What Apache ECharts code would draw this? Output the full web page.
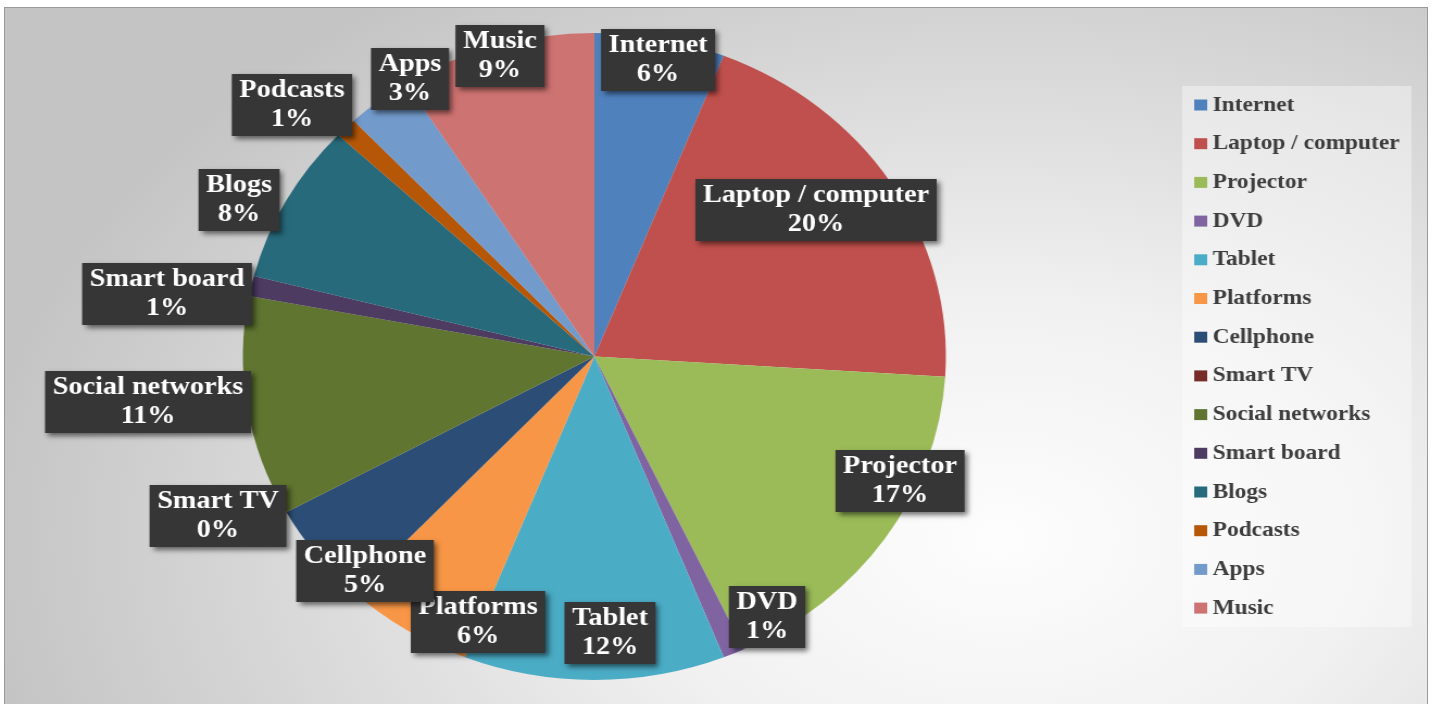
<!DOCTYPE html>
<html>
<head>
<meta charset="utf-8">
<script src="https://cdn.jsdelivr.net/npm/echarts@6/dist/echarts.min.js"></script>
<style>
  html, body { margin: 0; padding: 0; width: 1435px; height: 704px; overflow: hidden; background: #ffffff; }
  #frame {
    position: absolute; left: 4px; top: 7px; width: 1424px; height: 710px;
    border: 1px solid #9a9a9a; box-sizing: border-box;
    background: radial-gradient(ellipse 72% 95% at 70% 75%, #fdfdfd 0%, #f1f1f1 35%, #c4c4c4 100%);
  }
  /* the drawing is widened horizontally, so the pie reads as a slight ellipse */
  #chart {
    position: absolute; left: 0; top: 0; width: 1320.6px; height: 704px;
    transform: scaleX(1.0866); transform-origin: 0 0;
  }
</style>
</head>
<body>
<div id="frame"></div>
<div id="chart"></div>
<script>
// Share of use per resource (%)
const categories = [
  'Internet', 'Laptop / computer', 'Projector', 'DVD', 'Tablet', 'Platforms', 'Cellphone',
  'Smart TV', 'Social networks', 'Smart board', 'Blogs', 'Podcasts', 'Apps', 'Music'
];
const shares = [6, 20, 17, 1, 12, 6, 5, 0, 11, 1, 8, 1, 3, 9];

const colors = [
  '#4F81BD', '#C0504D', '#9BBB59', '#8064A2', '#4BACC6', '#F79646', '#2C4D75',
  '#772C2A', '#5F7530', '#4D3B62', '#276A7C', '#B65708', '#729ACA', '#CD7371'
];

// pie geometry (chart pixels)
const CX = 547, CY = 356.5, R = 323.5;

// label box centres, as offsets from the pie centre
const labelOffsets = [
  [58.6, -296.5], [204.0, -146.5], [281.3, 124.5], [158.9, 260.5], [14.4, 276.5],
  [-107.1, 265.5], [-211.1, 214.5], [-346.4, 159.5], [-410.8, 45.5], [-393.3, -62.5],
  [-327.0, -156.5], [-278.3, -251.5], [-169.7, -277.5], [-86.9, -300.5]
];

const chart = echarts.init(document.getElementById('chart'), null, { renderer: 'canvas' });

chart.setOption({
  animation: false,
  backgroundColor: 'transparent',
  color: colors,
  legend: {
    orient: 'vertical',
    left: 1088,
    top: 86,
    icon: 'rect',
    itemWidth: 12,
    itemHeight: 11,
    itemGap: 16.7,
    padding: [8, 11, 8, 11],
    backgroundColor: 'rgba(255,255,255,0.38)',
    textStyle: {
      fontFamily: 'Liberation Serif',
      fontWeight: 'bold',
      fontSize: 21.5,
      lineHeight: 22,
      color: '#3d3d3d'
    },
    data: categories
  },
  series: [{
    type: 'pie',
    center: [CX, CY],
    radius: R,
    startAngle: 90,
    clockwise: true,
    avoidLabelOverlap: false,
    silent: true,
    itemStyle: { borderWidth: 0 },
    label: {
      show: true,
      position: 'inside',
      formatter: p => p.name + '\n' + p.value + '%',
      fontFamily: 'Liberation Serif',
      fontWeight: 'bold',
      fontSize: 26,
      lineHeight: 29,
      color: '#ffffff',
      backgroundColor: '#363636',
      padding: [2, 7, 2, 7],
      shadowColor: 'rgba(0,0,0,0.55)',
      shadowBlur: 5,
      shadowOffsetX: 3,
      shadowOffsetY: 3
    },
    labelLine: { show: false },
    labelLayout: params => {
      const o = labelOffsets[params.dataIndex];
      return { x: CX + o[0], y: CY + o[1], align: 'center', verticalAlign: 'middle', hideOverlap: false };
    },
    data: categories.map((name, i) => ({ name: name, value: shares[i] }))
  }]
});
</script>
</body>
</html>
